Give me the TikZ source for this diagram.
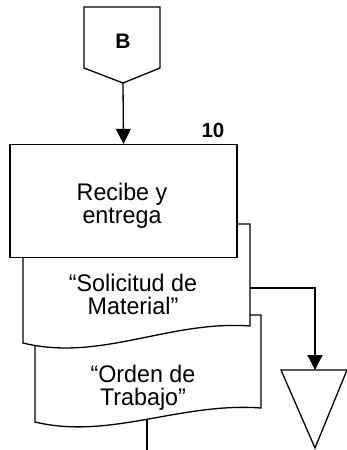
\documentclass[tikz,border=0pt]{standalone}
\usepackage{fontspec}
\setmainfont{Liberation Sans}
\newfontfamily\angosta[FakeStretch=0.97]{Liberation Sans}
\usepackage{tikz}
\usetikzlibrary{arrows.meta}
\tikzstyle{linea} = [line width=1.3pt, black]
\tikzstyle{flecha} = [linea, -{Triangle[length=15pt,width=15pt]}]
\tikzstyle{texto} = [align=center, anchor=base, inner sep=0pt, font=\angosta\fontsize{24}{23}\selectfont]
\tikzstyle{proceso} = [linea, draw, fill=white, minimum width=227pt, minimum height=113pt, inner sep=0pt]

\begin{document}
\begin{tikzpicture}[x=1pt,y=-1pt]
			\useasboundingbox (0,0) rectangle (347,450);
			% conector de pagina
			\draw[linea] (84,7) -- (160,7) -- (160,68) -- (123,83) -- (84,68) -- cycle;
			\node[font=\fontsize{21}{25}\selectfont\bfseries] (B) at (123,41) {B};
			\coordinate (Bpt) at (123,83);
			% documentos
			\draw[linea, fill=white] (35,315) -- (261,315) -- (261,408) .. controls (180,402) and (110,440) .. (35,422) -- cycle;
			\node[texto] (orden) at (143,405) {“Orden de\\Trabajo”};
			\draw[linea, fill=white] (23,224) -- (250,224) -- (250,326) .. controls (170,320) and (100,362) .. (23,343) -- cycle;
			\node[texto] (solicitud) at (133,314.3) {“Solicitud de\\Material”};
			% actividad 10
			\node[proceso] (recibe) at (123.5,201) {};
			\node[texto] (recibetxt) at (122,223) {Recibe y\\entrega};
			\node[font=\fontsize{20.5}{24}\selectfont\bfseries] (num) at (213,130) {10};
			\draw[flecha] (Bpt) -- (recibe.north);
			% archivo
			\coordinate (alm) at (315,370);
			\draw[linea] (281,370) -- (347,370) -- (315,448) -- cycle;
			\coordinate (sol) at (250,288);
			\draw[flecha] (sol) -- (315,288) -- (alm);
			\coordinate (ordsal) at (147,419);
			\coordinate (fin) at (147,450);
			\draw[linea] (ordsal) -- (fin);
		\end{tikzpicture}
\end{document}
